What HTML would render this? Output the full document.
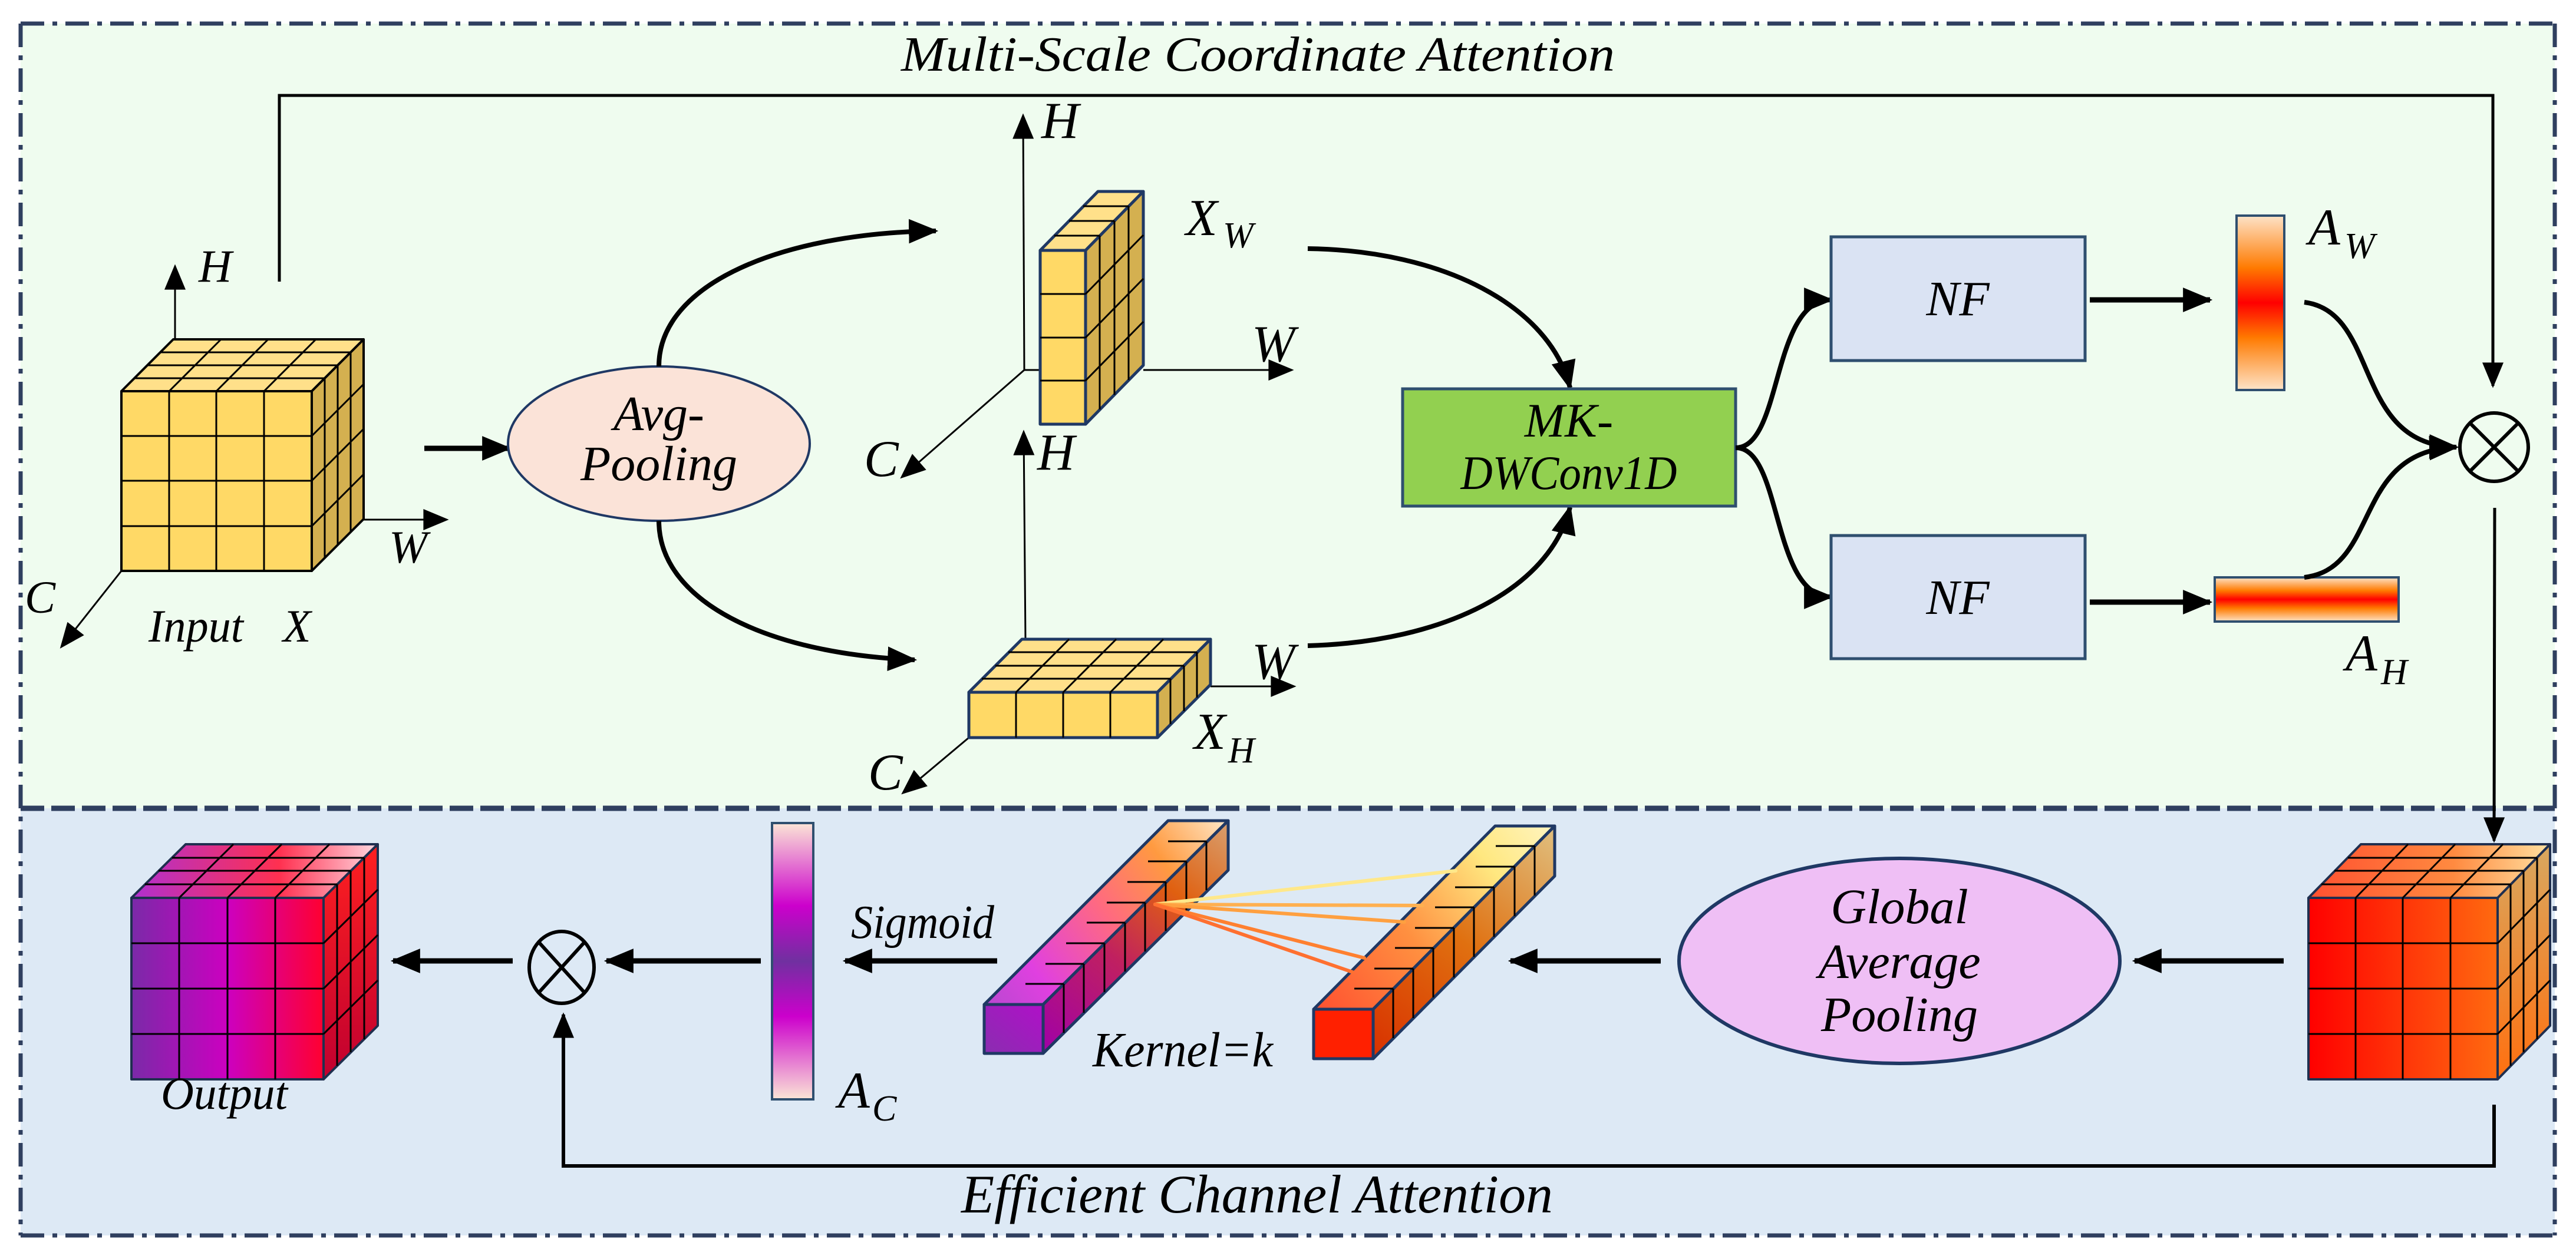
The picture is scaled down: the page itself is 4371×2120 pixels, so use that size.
<!DOCTYPE html>
<html><head><meta charset="utf-8"><style>html,body{margin:0;padding:0;background:#fff}svg{display:block}svg text{font-family:"Liberation Serif","Times New Roman",serif !important;font-style:italic;fill:#000}</style></head><body>
<svg xmlns="http://www.w3.org/2000/svg" width="4371" height="2120" viewBox="0 0 4371 2120" font-family="Liberation Serif, Times New Roman, serif" font-style="italic">
<defs>
<marker id="ah" viewBox="0 0 12 10" markerWidth="50" markerHeight="42" refX="11" refY="5" orient="auto" markerUnits="userSpaceOnUse"><path d="M0,0 L12,5 L0,10 z" fill="#000"/></marker>
<marker id="am" viewBox="0 0 12 10" markerWidth="44" markerHeight="36" refX="11" refY="5" orient="auto" markerUnits="userSpaceOnUse"><path d="M0,0 L12,5 L0,10 z" fill="#000"/></marker>
<linearGradient id="aw" x1="0" y1="0" x2="0" y2="1"><stop offset="0" stop-color="#fde3c8"/><stop offset="0.3" stop-color="#ff7a00"/><stop offset="0.5" stop-color="#ff0000"/><stop offset="0.7" stop-color="#ff7a00"/><stop offset="1" stop-color="#fde3c8"/></linearGradient>
<linearGradient id="ac" x1="0" y1="0" x2="0" y2="1"><stop offset="0" stop-color="#fbe5d6"/><stop offset="0.3" stop-color="#cc00cc"/><stop offset="0.5" stop-color="#7030a0"/><stop offset="0.7" stop-color="#cc00cc"/><stop offset="1" stop-color="#fbe5d6"/></linearGradient>
<linearGradient id="rf" x1="0" y1="0" x2="1" y2="0"><stop offset="0" stop-color="#ff0000"/><stop offset="1" stop-color="#ff6a10"/></linearGradient>
<linearGradient id="rt" x1="0" y1="0" x2="1" y2="0"><stop offset="0" stop-color="#ff5030"/><stop offset="0.6" stop-color="#ff8a40"/><stop offset="1" stop-color="#ffe0a0"/></linearGradient>
<linearGradient id="rs" x1="0" y1="1" x2="0" y2="0"><stop offset="0" stop-color="#ff7010"/><stop offset="1" stop-color="#d8a860"/></linearGradient>
<linearGradient id="of" x1="0" y1="0" x2="1" y2="0"><stop offset="0" stop-color="#7a2aa8"/><stop offset="0.5" stop-color="#cc00c0"/><stop offset="1" stop-color="#ff0030"/></linearGradient>
<linearGradient id="ot" x1="0" y1="0" x2="1" y2="0"><stop offset="0" stop-color="#b030d0"/><stop offset="0.6" stop-color="#ff3050"/><stop offset="1" stop-color="#ffd8e0"/></linearGradient>
<linearGradient id="os" x1="0" y1="1" x2="0" y2="0"><stop offset="0" stop-color="#c00030"/><stop offset="1" stop-color="#ff2020"/></linearGradient>
<linearGradient id="lt" x1="1670" y1="1705" x2="2084" y2="1393" gradientUnits="userSpaceOnUse"><stop offset="0" stop-color="#b848d0"/><stop offset="0.2" stop-color="#e040e0"/><stop offset="0.5" stop-color="#ff6a80"/><stop offset="0.75" stop-color="#ff9a40"/><stop offset="1" stop-color="#ffe8c8"/></linearGradient>
<linearGradient id="ls" x1="1770" y1="1788" x2="2084" y2="1393" gradientUnits="userSpaceOnUse"><stop offset="0" stop-color="#a000a8"/><stop offset="0.4" stop-color="#c02060"/><stop offset="0.7" stop-color="#e06010"/><stop offset="1" stop-color="#d8a070"/></linearGradient>
<linearGradient id="lf" x1="0" y1="1" x2="1" y2="0"><stop offset="0" stop-color="#8a2db0"/><stop offset="1" stop-color="#b010c8"/></linearGradient>
<linearGradient id="qt" x1="2229" y1="1713" x2="2638" y2="1402" gradientUnits="userSpaceOnUse"><stop offset="0" stop-color="#ff5030"/><stop offset="0.4" stop-color="#ff9040"/><stop offset="0.75" stop-color="#ffe880"/><stop offset="1" stop-color="#fff4c0"/></linearGradient>
<linearGradient id="qs" x1="2330" y1="1797" x2="2638" y2="1402" gradientUnits="userSpaceOnUse"><stop offset="0" stop-color="#d83000"/><stop offset="0.5" stop-color="#e07010"/><stop offset="1" stop-color="#e0c080"/></linearGradient>
</defs>

<rect x="35" y="40" width="4300" height="1332" fill="#effcef"/>
<rect x="35" y="1372" width="4300" height="725" fill="#dde9f5"/>
<g fill="none" stroke="#2f3f5f" stroke-width="7">
<line x1="35" y1="40" x2="4335" y2="40" stroke-dasharray="40 14 8 14"/>
<line x1="35" y1="2097" x2="4335" y2="2097" stroke-dasharray="40 14 8 14"/>
<line x1="35" y1="40" x2="35" y2="2097" stroke-dasharray="40 14 8 14"/>
<line x1="4335" y1="40" x2="4335" y2="2097" stroke-dasharray="40 14 8 14"/>
<line x1="35" y1="1372" x2="4335" y2="1372" stroke-dasharray="40 12" stroke-width="9"/>
</g>

<text x="1529" y="120" font-size="84" textLength="1211" lengthAdjust="spacingAndGlyphs">Multi-Scale Coordinate Attention</text>

<polyline points="474,478 474,162 4230,162 4230,655" fill="none" stroke="#000" stroke-width="5" marker-end="url(#am)"/>

<g stroke="#000" stroke-width="4" stroke-linejoin="round">
<rect x="206" y="664" width="323" height="305" fill="#ffd966"/>
<polygon points="206,664 529,664 617,576 294,576" fill="#ffe08a"/>
<polygon points="529,664 617,576 617,881 529,969" fill="#d4b050"/>
</g>
<g stroke="#000" stroke-width="3">
<line x1="287" y1="664" x2="287" y2="969"/><line x1="367" y1="664" x2="367" y2="969"/><line x1="448" y1="664" x2="448" y2="969"/>
<line x1="206" y1="740" x2="529" y2="740"/><line x1="206" y1="816" x2="529" y2="816"/><line x1="206" y1="893" x2="529" y2="893"/>
<line x1="228" y1="642" x2="551" y2="642"/><line x1="250" y1="620" x2="573" y2="620"/><line x1="272" y1="598" x2="595" y2="598"/>
<line x1="287" y1="664" x2="375" y2="576"/><line x1="367" y1="664" x2="455" y2="576"/><line x1="448" y1="664" x2="536" y2="576"/>
<line x1="551" y1="642" x2="551" y2="947"/><line x1="573" y1="620" x2="573" y2="925"/><line x1="595" y1="598" x2="595" y2="903"/>
<line x1="529" y1="740" x2="617" y2="652"/><line x1="529" y1="816" x2="617" y2="728"/><line x1="529" y1="893" x2="617" y2="805"/>
</g>
<g stroke="#000" stroke-width="3" fill="none">
<line x1="297" y1="576" x2="297" y2="452" marker-end="url(#am)"/>
<line x1="617" y1="882" x2="758" y2="882" marker-end="url(#am)"/>
<line x1="206" y1="969" x2="104" y2="1098" marker-end="url(#am)"/>
</g>
<text x="337" y="478" font-size="78">H</text>
<text x="660" y="955" font-size="78">W</text>
<text x="42" y="1040" font-size="78">C</text>
<text x="252" y="1089" font-size="78" textLength="161" lengthAdjust="spacingAndGlyphs">Input</text>
<text x="480" y="1089" font-size="78">X</text>

<line x1="720" y1="761" x2="864" y2="761" stroke="#000" stroke-width="9" marker-end="url(#ah)"/>

<ellipse cx="1118" cy="753" rx="256" ry="131" fill="#fbe3d8" stroke="#1f3864" stroke-width="4"/>
<text x="1118" y="730" font-size="84" text-anchor="middle">Avg-</text>
<text x="1118" y="815" font-size="84" text-anchor="middle">Pooling</text>
<path d="M1118,622 C1118,480 1330,395 1588,392" fill="none" stroke="#000" stroke-width="8" marker-end="url(#ah)"/>
<path d="M1118,884 C1118,1020 1300,1110 1552,1120" fill="none" stroke="#000" stroke-width="8" marker-end="url(#ah)"/>

<g stroke="#000" stroke-width="3" fill="none">
<line x1="1738" y1="628" x2="1736" y2="196" marker-end="url(#am)"/>
<line x1="1738" y1="628" x2="1765" y2="628"/>
<line x1="1940" y1="628" x2="2192" y2="628" marker-end="url(#am)"/>
<line x1="1738" y1="628" x2="1530" y2="810" marker-end="url(#am)"/>
</g>
<g stroke="#1f3864" stroke-width="5" stroke-linejoin="round">
<rect x="1765" y="425" width="77" height="295" fill="#ffd966"/>
<polygon points="1765,425 1842,425 1940,325 1863,325" fill="#ffe08a"/>
<polygon points="1842,425 1940,325 1940,620 1842,720" fill="#d4b050"/>
</g>
<g stroke="#000" stroke-width="3">
<line x1="1765" y1="499" x2="1842" y2="499"/><line x1="1765" y1="573" x2="1842" y2="573"/><line x1="1765" y1="646" x2="1842" y2="646"/>
<line x1="1789" y1="400" x2="1866" y2="400"/><line x1="1814" y1="375" x2="1891" y2="375"/><line x1="1838" y1="350" x2="1915" y2="350"/>
<line x1="1866" y1="400" x2="1866" y2="695"/><line x1="1891" y1="375" x2="1891" y2="670"/><line x1="1915" y1="350" x2="1915" y2="645"/>
<line x1="1842" y1="499" x2="1940" y2="399"/><line x1="1842" y1="573" x2="1940" y2="473"/><line x1="1842" y1="646" x2="1940" y2="546"/>
</g>
<text x="1767" y="234" font-size="88">H</text>
<text x="2012" y="399" font-size="88">X</text><text x="2075" y="420" font-size="62">W</text>
<text x="2124" y="613" font-size="88">W</text>
<text x="1466" y="808" font-size="88">C</text>

<g stroke="#000" stroke-width="3" fill="none">
<line x1="1740" y1="1085" x2="1737" y2="733" marker-end="url(#am)"/>
<line x1="2054" y1="1165" x2="2196" y2="1165" marker-end="url(#am)"/>
<line x1="1644" y1="1252" x2="1532" y2="1346" marker-end="url(#am)"/>
</g>
<g stroke="#1f3864" stroke-width="5" stroke-linejoin="round">
<rect x="1644" y="1175" width="320" height="77" fill="#ffd966"/>
<polygon points="1644,1175 1964,1175 2054,1085 1734,1085" fill="#ffe08a"/>
<polygon points="1964,1175 2054,1085 2054,1162 1964,1252" fill="#d4b050"/>
</g>
<g stroke="#000" stroke-width="3">
<line x1="1724" y1="1175" x2="1724" y2="1252"/><line x1="1804" y1="1175" x2="1804" y2="1252"/><line x1="1884" y1="1175" x2="1884" y2="1252"/>
<line x1="1666" y1="1152" x2="1986" y2="1152"/><line x1="1689" y1="1130" x2="2009" y2="1130"/><line x1="1711" y1="1107" x2="2031" y2="1107"/>
<line x1="1724" y1="1175" x2="1814" y2="1085"/><line x1="1804" y1="1175" x2="1894" y2="1085"/><line x1="1884" y1="1175" x2="1974" y2="1085"/>
<line x1="1986" y1="1152" x2="1986" y2="1229"/><line x1="2009" y1="1130" x2="2009" y2="1207"/><line x1="2031" y1="1107" x2="2031" y2="1184"/>
</g>
<text x="1760" y="797" font-size="88">H</text>
<text x="2124" y="1152" font-size="88">W</text>
<text x="2026" y="1271" font-size="88">X</text><text x="2084" y="1294" font-size="62">H</text>
<text x="1473" y="1340" font-size="88">C</text>

<path d="M2219,422 C2450,425 2630,520 2664,658" fill="none" stroke="#000" stroke-width="8" marker-end="url(#ah)"/>
<path d="M2219,1096 C2450,1090 2630,1000 2664,861" fill="none" stroke="#000" stroke-width="8" marker-end="url(#ah)"/>

<rect x="2380" y="660" width="565" height="199" fill="#92d050" stroke="#2f4f6f" stroke-width="5"/>
<text x="2662" y="741" font-size="82" text-anchor="middle">MK-</text>
<text x="2662" y="830" font-size="82" text-anchor="middle" textLength="367" lengthAdjust="spacingAndGlyphs">DWConv1D</text>

<path d="M2945,760 C3025,760 3005,509 3107,509" fill="none" stroke="#000" stroke-width="8" marker-end="url(#ah)"/>
<path d="M2945,760 C3025,760 3005,1013 3107,1013" fill="none" stroke="#000" stroke-width="8" marker-end="url(#ah)"/>

<rect x="3107" y="402" width="431" height="210" fill="#dae3f3" stroke="#2f4f6f" stroke-width="5"/>
<rect x="3107" y="909" width="431" height="209" fill="#dae3f3" stroke="#2f4f6f" stroke-width="5"/>
<text x="3322" y="535" font-size="84" text-anchor="middle">NF</text>
<text x="3322" y="1042" font-size="84" text-anchor="middle">NF</text>

<line x1="3546" y1="509" x2="3750" y2="509" stroke="#000" stroke-width="9" marker-end="url(#ah)"/>
<line x1="3546" y1="1022" x2="3750" y2="1022" stroke="#000" stroke-width="9" marker-end="url(#ah)"/>

<rect x="3795" y="366" width="81" height="296" fill="url(#aw)" stroke="#2f4f6f" stroke-width="4"/>
<rect x="3758" y="980" width="312" height="75" fill="url(#aw)" stroke="#2f4f6f" stroke-width="4"/>
<text x="3917" y="415" font-size="88">A</text><text x="3978" y="438" font-size="62">W</text>
<text x="3980" y="1138" font-size="88">A</text><text x="4040" y="1161" font-size="62">H</text>

<path d="M3910,513 C4040,530 3990,755 4168,759" fill="none" stroke="#000" stroke-width="8" marker-end="url(#ah)"/>
<path d="M3910,980 C4040,965 3990,765 4168,759" fill="none" stroke="#000" stroke-width="8" marker-end="url(#ah)"/>

<g stroke="#000" stroke-width="6" fill="none">
<circle cx="4232" cy="759" r="58"/>
<line x1="4191" y1="718" x2="4273" y2="800"/><line x1="4273" y1="718" x2="4191" y2="800"/>
</g>
<line x1="4233" y1="862" x2="4232" y2="1427" stroke="#000" stroke-width="5" marker-end="url(#am)"/>

<g stroke="#1f2f4f" stroke-width="4" stroke-linejoin="round">
<rect x="3917" y="1524" width="321" height="308" fill="url(#rf)"/>
<polygon points="3917,1524 4238,1524 4327,1433 4006,1433" fill="url(#rt)"/>
<polygon points="4238,1524 4327,1433 4327,1741 4238,1832" fill="url(#rs)"/>
</g>
<g stroke="#000" stroke-width="3">
<line x1="3997" y1="1524" x2="3997" y2="1832"/><line x1="4077" y1="1524" x2="4077" y2="1832"/><line x1="4158" y1="1524" x2="4158" y2="1832"/>
<line x1="3917" y1="1601" x2="4238" y2="1601"/><line x1="3917" y1="1678" x2="4238" y2="1678"/><line x1="3917" y1="1755" x2="4238" y2="1755"/>
<line x1="3939" y1="1501" x2="4260" y2="1501"/><line x1="3961" y1="1478" x2="4282" y2="1478"/><line x1="3984" y1="1456" x2="4305" y2="1456"/>
<line x1="3997" y1="1524" x2="4086" y2="1433"/><line x1="4077" y1="1524" x2="4166" y2="1433"/><line x1="4158" y1="1524" x2="4247" y2="1433"/>
<line x1="4260" y1="1501" x2="4260" y2="1809"/><line x1="4282" y1="1478" x2="4282" y2="1786"/><line x1="4305" y1="1456" x2="4305" y2="1764"/>
<line x1="4238" y1="1601" x2="4327" y2="1510"/><line x1="4238" y1="1678" x2="4327" y2="1587"/><line x1="4238" y1="1755" x2="4327" y2="1664"/>
</g>

<line x1="3875" y1="1631" x2="3622" y2="1631" stroke="#000" stroke-width="9" marker-end="url(#ah)"/>
<ellipse cx="3223" cy="1631" rx="374" ry="174" fill="#efbff5" stroke="#1f3864" stroke-width="6"/>
<text x="3223" y="1567" font-size="84" text-anchor="middle">Global</text>
<text x="3223" y="1660" font-size="84" text-anchor="middle">Average</text>
<text x="3223" y="1750" font-size="84" text-anchor="middle">Pooling</text>
<line x1="2818" y1="1631" x2="2563" y2="1631" stroke="#000" stroke-width="9" marker-end="url(#ah)"/>

<g stroke="#1f3864" stroke-width="5" stroke-linejoin="round">
<polygon points="2229,1713 2330,1713 2638,1402 2537,1402" fill="url(#qt)"/>
<polygon points="2330,1713 2638,1402 2638,1487 2330,1797" fill="url(#qs)"/>
<rect x="2229" y="1713" width="101" height="84" fill="#ff2000"/>
</g>
<g stroke="#000" stroke-width="3">
<line x1="2298" y1="1678" x2="2364" y2="1678"/><line x1="2332" y1="1644" x2="2398" y2="1644"/><line x1="2367" y1="1609" x2="2432" y2="1609"/><line x1="2401" y1="1575" x2="2467" y2="1575"/><line x1="2435" y1="1540" x2="2501" y2="1540"/><line x1="2469" y1="1506" x2="2535" y2="1506"/><line x1="2504" y1="1471" x2="2570" y2="1471"/><line x1="2538" y1="1436" x2="2604" y2="1436"/>
<line x1="2364" y1="1678" x2="2364" y2="1762"/><line x1="2398" y1="1644" x2="2398" y2="1728"/><line x1="2432" y1="1609" x2="2432" y2="1693"/><line x1="2467" y1="1575" x2="2467" y2="1659"/><line x1="2501" y1="1540" x2="2501" y2="1624"/><line x1="2535" y1="1506" x2="2535" y2="1590"/><line x1="2570" y1="1471" x2="2570" y2="1555"/><line x1="2604" y1="1436" x2="2604" y2="1520"/>
</g>

<g stroke="#1f3864" stroke-width="5" stroke-linejoin="round">
<polygon points="1670,1705 1770,1705 2084,1393 1982,1393" fill="url(#lt)"/>
<polygon points="1770,1705 2084,1393 2084,1477 1770,1788" fill="url(#ls)"/>
<rect x="1670" y="1705" width="100" height="83" fill="url(#lf)"/>
</g>
<g stroke="#000" stroke-width="3">
<line x1="1740" y1="1670" x2="1805" y2="1670"/><line x1="1774" y1="1636" x2="1839" y2="1636"/><line x1="1809" y1="1601" x2="1874" y2="1601"/><line x1="1844" y1="1566" x2="1909" y2="1566"/><line x1="1878" y1="1532" x2="1943" y2="1532"/><line x1="1913" y1="1497" x2="1978" y2="1497"/><line x1="1948" y1="1462" x2="2013" y2="1462"/><line x1="1982" y1="1428" x2="2047" y2="1428"/>
<line x1="1805" y1="1670" x2="1805" y2="1753"/><line x1="1839" y1="1636" x2="1839" y2="1719"/><line x1="1874" y1="1601" x2="1874" y2="1684"/><line x1="1909" y1="1566" x2="1909" y2="1649"/><line x1="1943" y1="1532" x2="1943" y2="1615"/><line x1="1978" y1="1497" x2="1978" y2="1580"/><line x1="2013" y1="1462" x2="2013" y2="1545"/><line x1="2047" y1="1428" x2="2047" y2="1511"/>
</g>
<g stroke-width="6" stroke-linecap="round">
<line x1="1960" y1="1535" x2="2470" y2="1478" stroke="#ffe88a"/>
<line x1="1960" y1="1535" x2="2414" y2="1537" stroke="#ffb050"/>
<line x1="1960" y1="1535" x2="2383" y2="1565" stroke="#ffa040"/>
<line x1="1960" y1="1535" x2="2315" y2="1626" stroke="#ff8030"/>
<line x1="1960" y1="1535" x2="2295" y2="1650" stroke="#ff7030"/>
</g>
<text x="1854" y="1810" font-size="84" textLength="306" lengthAdjust="spacingAndGlyphs">Kernel=k</text>

<line x1="1692" y1="1631" x2="1434" y2="1631" stroke="#000" stroke-width="9" marker-end="url(#ah)"/>
<text x="1444" y="1592" font-size="80" textLength="243" lengthAdjust="spacingAndGlyphs">Sigmoid</text>

<rect x="1310" y="1397" width="70" height="469" fill="url(#ac)" stroke="#2f4f6f" stroke-width="4"/>
<text x="1422" y="1880" font-size="88">A</text><text x="1480" y="1902" font-size="62">C</text>

<line x1="1291" y1="1631" x2="1029" y2="1631" stroke="#000" stroke-width="9" marker-end="url(#ah)"/>
<g stroke="#000" stroke-width="6" fill="none">
<ellipse cx="953" cy="1642" rx="55" ry="61"/>
<line x1="914" y1="1599" x2="992" y2="1685"/><line x1="992" y1="1599" x2="914" y2="1685"/>
</g>
<line x1="870" y1="1631" x2="667" y2="1631" stroke="#000" stroke-width="9" marker-end="url(#ah)"/>

<polyline points="4232,1875 4232,1979 956,1979 956,1722" fill="none" stroke="#000" stroke-width="6" marker-end="url(#am)"/>

<g stroke="#1f2f4f" stroke-width="4" stroke-linejoin="round">
<rect x="223" y="1524" width="326" height="308" fill="url(#of)"/>
<polygon points="223,1524 549,1524 641,1433 315,1433" fill="url(#ot)"/>
<polygon points="549,1524 641,1433 641,1741 549,1832" fill="url(#os)"/>
</g>
<g stroke="#000" stroke-width="3">
<line x1="304" y1="1524" x2="304" y2="1832"/><line x1="386" y1="1524" x2="386" y2="1832"/><line x1="467" y1="1524" x2="467" y2="1832"/>
<line x1="223" y1="1601" x2="549" y2="1601"/><line x1="223" y1="1678" x2="549" y2="1678"/><line x1="223" y1="1755" x2="549" y2="1755"/>
<line x1="246" y1="1501" x2="572" y2="1501"/><line x1="269" y1="1478" x2="595" y2="1478"/><line x1="292" y1="1456" x2="618" y2="1456"/>
<line x1="304" y1="1524" x2="396" y2="1433"/><line x1="386" y1="1524" x2="478" y2="1433"/><line x1="467" y1="1524" x2="559" y2="1433"/>
<line x1="572" y1="1501" x2="572" y2="1809"/><line x1="595" y1="1478" x2="595" y2="1786"/><line x1="618" y1="1456" x2="618" y2="1764"/>
<line x1="549" y1="1601" x2="641" y2="1510"/><line x1="549" y1="1678" x2="641" y2="1587"/><line x1="549" y1="1755" x2="641" y2="1664"/>
</g>
<text x="273" y="1882" font-size="78" textLength="215" lengthAdjust="spacingAndGlyphs">Output</text>

<text x="1631" y="2058" font-size="92" textLength="1004" lengthAdjust="spacingAndGlyphs">Efficient Channel Attention</text>
</svg>
</body></html>
